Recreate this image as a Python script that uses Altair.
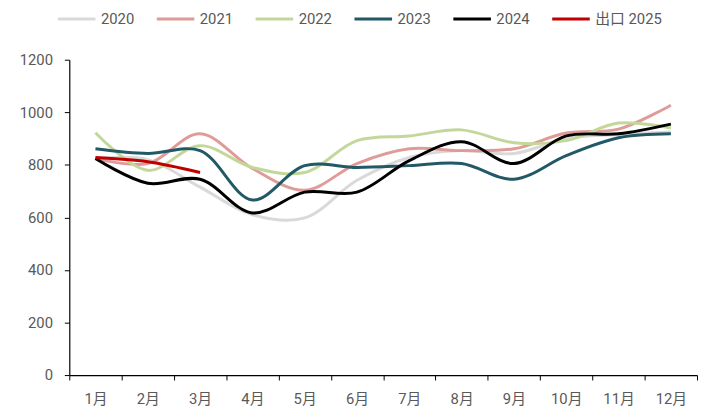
import altair as alt
import pandas as pd

months = ["1月", "2月", "3月", "4月", "5月", "6月", "7月", "8月", "9月", "10月", "11月", "12月"]
series_names = ["2020", "2021", "2022", "2023", "2024", "出口 2025"]
series_colors = ["#D9D9D9", "#E09B99", "#C4D79B", "#215967", "#000000", "#C00000"]

v2020 = [824, 820, 715, 610, 598, 741, 828, 854, 843, 900, 915, 925]
v2021 = [824, 805, 918, 786, 703, 805, 861, 854, 861, 921, 936, 1027]
v2022 = [922, 779, 873, 790, 771, 892, 910, 933, 884, 892, 959, 940]
v2023 = [861, 843, 854, 666, 797, 790, 797, 805, 745, 835, 903, 918]
v2024 = [824, 730, 745, 617, 696, 696, 816, 888, 805, 910, 918, 955]
v2025 = [828, 812, 771]

rows = []
for name, vals in zip(series_names, [v2020, v2021, v2022, v2023, v2024, v2025]):
    for i, v in enumerate(vals):
        rows.append({"month": months[i], "series": name, "value": v, "order": series_names.index(name)})
df = pd.DataFrame(rows)

FONT = "Roboto, 'Noto Sans CJK SC', sans-serif"
GREY = "#595959"

chart = alt.Chart(df).mark_line(
    interpolate="catmull-rom", strokeWidth=3
).encode(
    x=alt.X(
        "month:O",
        sort=months,
        scale=alt.Scale(type="band", paddingInner=0, paddingOuter=0),
        bandPosition=0.5,
        axis=alt.Axis(
            title=None, labelAngle=0, tickBand="extent", tickSize=5,
            labelPadding=12, labelFontSize=15, labelColor=GREY, labelFont=FONT,
            domainColor="#000000", tickColor="#000000", domainWidth=1.2,
        ),
    ),
    y=alt.Y(
        "value:Q",
        scale=alt.Scale(domain=[0, 1200], nice=False),
        axis=alt.Axis(
            title=None, values=[0, 200, 400, 600, 800, 1000, 1200], grid=False, format="d",
            tickSize=5, labelPadding=12, labelFontSize=15, labelColor=GREY, labelFont=FONT,
            domainColor="#000000", tickColor="#000000", domainWidth=1.2,
        ),
    ),
    color=alt.Color(
        "series:N",
        scale=alt.Scale(domain=series_names, range=series_colors),
        legend=alt.Legend(
            title=None, orient="none", legendX=-13, legendY=-62, direction="horizontal",
            symbolType="stroke", symbolSize=1444, symbolStrokeWidth=3,
            labelFontSize=15, labelColor=GREY, labelFont=FONT, labelOffset=4,
            columnPadding=16,
        ),
    ),
    order=alt.Order("order:Q"),
    detail="series:N",
).properties(
    width=635, height=319,
    autosize=alt.AutoSizeParams(type="none"),
    padding={"left": 62, "top": 50, "right": 2, "bottom": 30},
).configure_view(stroke=None)

chart.save("out.html", embed_options={"renderer": "svg", "actions": False})
